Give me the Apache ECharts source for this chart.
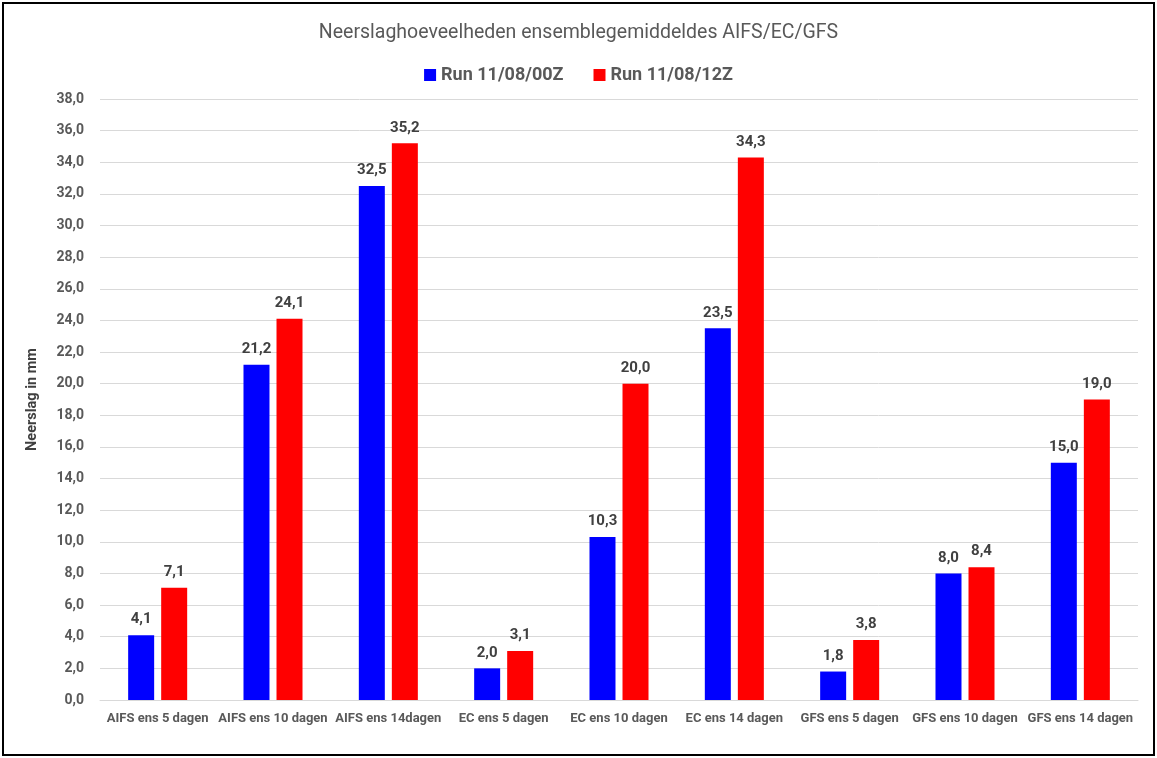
<!DOCTYPE html>
<html>
<head>
<meta charset="utf-8">
<script src="https://cdn.jsdelivr.net/npm/echarts@6/dist/echarts.min.js"></script>
<style>
  html, body { margin: 0; padding: 0; background: #fff; }
  #frame { position: absolute; left: 2px; top: 2px; width: 1149px; height: 750px; border: 2px solid #000; background: #fff; }
  #chart { width: 1149px; height: 750px; }
</style>
</head>
<body>
<div id="frame"><div id="chart"></div></div>
<script>
// data
const categories = ['AIFS ens 5 dagen', 'AIFS ens 10 dagen', 'AIFS ens 14dagen', 'EC ens 5 dagen', 'EC ens 10 dagen', 'EC ens 14 dagen', 'GFS ens 5 dagen', 'GFS ens 10 dagen', 'GFS ens 14 dagen']
const run00 = [4.1, 21.2, 32.5, 2.0, 10.3, 23.5, 1.8, 8.0, 15.0]
const run12 = [7.1, 24.1, 35.2, 3.1, 20.0, 34.3, 3.8, 8.4, 19.0]
const seriesNames = ['Run 11/08/00Z', 'Run 11/08/12Z']

function komma(v){
    return Number(v).toFixed(1).replace('.', ',')
}

let box = document.querySelector('#chart')
let myChart = echarts.init(box)
let labelStyle = {
    show: true,
    position: 'top',
    distance: 8,
    fontFamily: 'Liberation Sans Narrow, Roboto, sans-serif',
    fontWeight: 'bold',
    fontSize: 15,
    color: '#404040',
    formatter: p => komma(p.value)
}
let option = {
    animation: false,
    title: {
        text: 'Neerslaghoeveelheden ensemblegemiddeldes AIFS/EC/GFS',
        left: 'center',
        top: 14,
        textStyle: {
            fontFamily: 'Roboto, sans-serif',
            fontWeight: 'normal',
            fontSize: 19.5,
            color: '#595959'
        }
    },
    legend: {
        top: 57,
        left: 'center',
        itemWidth: 12,
        itemHeight: 12,
        itemGap: 30,
        icon: 'rect',
        textStyle: {
            fontFamily: 'Roboto, sans-serif',
            fontWeight: 'bold',
            fontSize: 18,
            color: '#595959'
        },
        data: seriesNames
    },
    grid: {
        left: 96,
        right: 15,
        top: 95,
        bottom: 54
    },
    xAxis: {
        type: 'category',
        data: categories,
        axisLine: { lineStyle: { color: '#d9d9d9' } },
        axisTick: { show: false },
        axisLabel: {
            margin: 12,
            fontFamily: 'Liberation Sans Narrow, Roboto, sans-serif',
            fontWeight: 'bold',
            fontSize: 13,
            color: '#595959',
            interval: 0
        }
    },
    yAxis: {
        type: 'value',
        min: 0,
        max: 38,
        interval: 2,
        name: 'Neerslag in mm',
        nameLocation: 'middle',
        nameGap: 60,
        nameTextStyle: {
            fontFamily: 'Roboto, sans-serif',
            fontWeight: 'bold',
            fontSize: 14.5,
            color: '#404040'
        },
        axisLine: { show: false },
        axisTick: { show: false },
        axisLabel: {
            margin: 16,
            fontFamily: 'Liberation Sans Narrow, Roboto, sans-serif',
            fontWeight: 'bold',
            fontSize: 14,
            color: '#595959',
            formatter: v => komma(v)
        },
        splitLine: { lineStyle: { color: '#d9d9d9' } }
    },
    series: [
        {
            name: seriesNames[0],
            type: 'bar',
            data: run00,
            barWidth: 26,
            barGap: '27%',
            itemStyle: { color: '#0000ff' },
            label: labelStyle
        },
        {
            name: seriesNames[1],
            type: 'bar',
            data: run12,
            barWidth: 26,
            barGap: '27%',
            itemStyle: { color: '#ff0000' },
            label: labelStyle
        }
    ]
}
myChart.setOption(option)
</script>
</body>
</html>
